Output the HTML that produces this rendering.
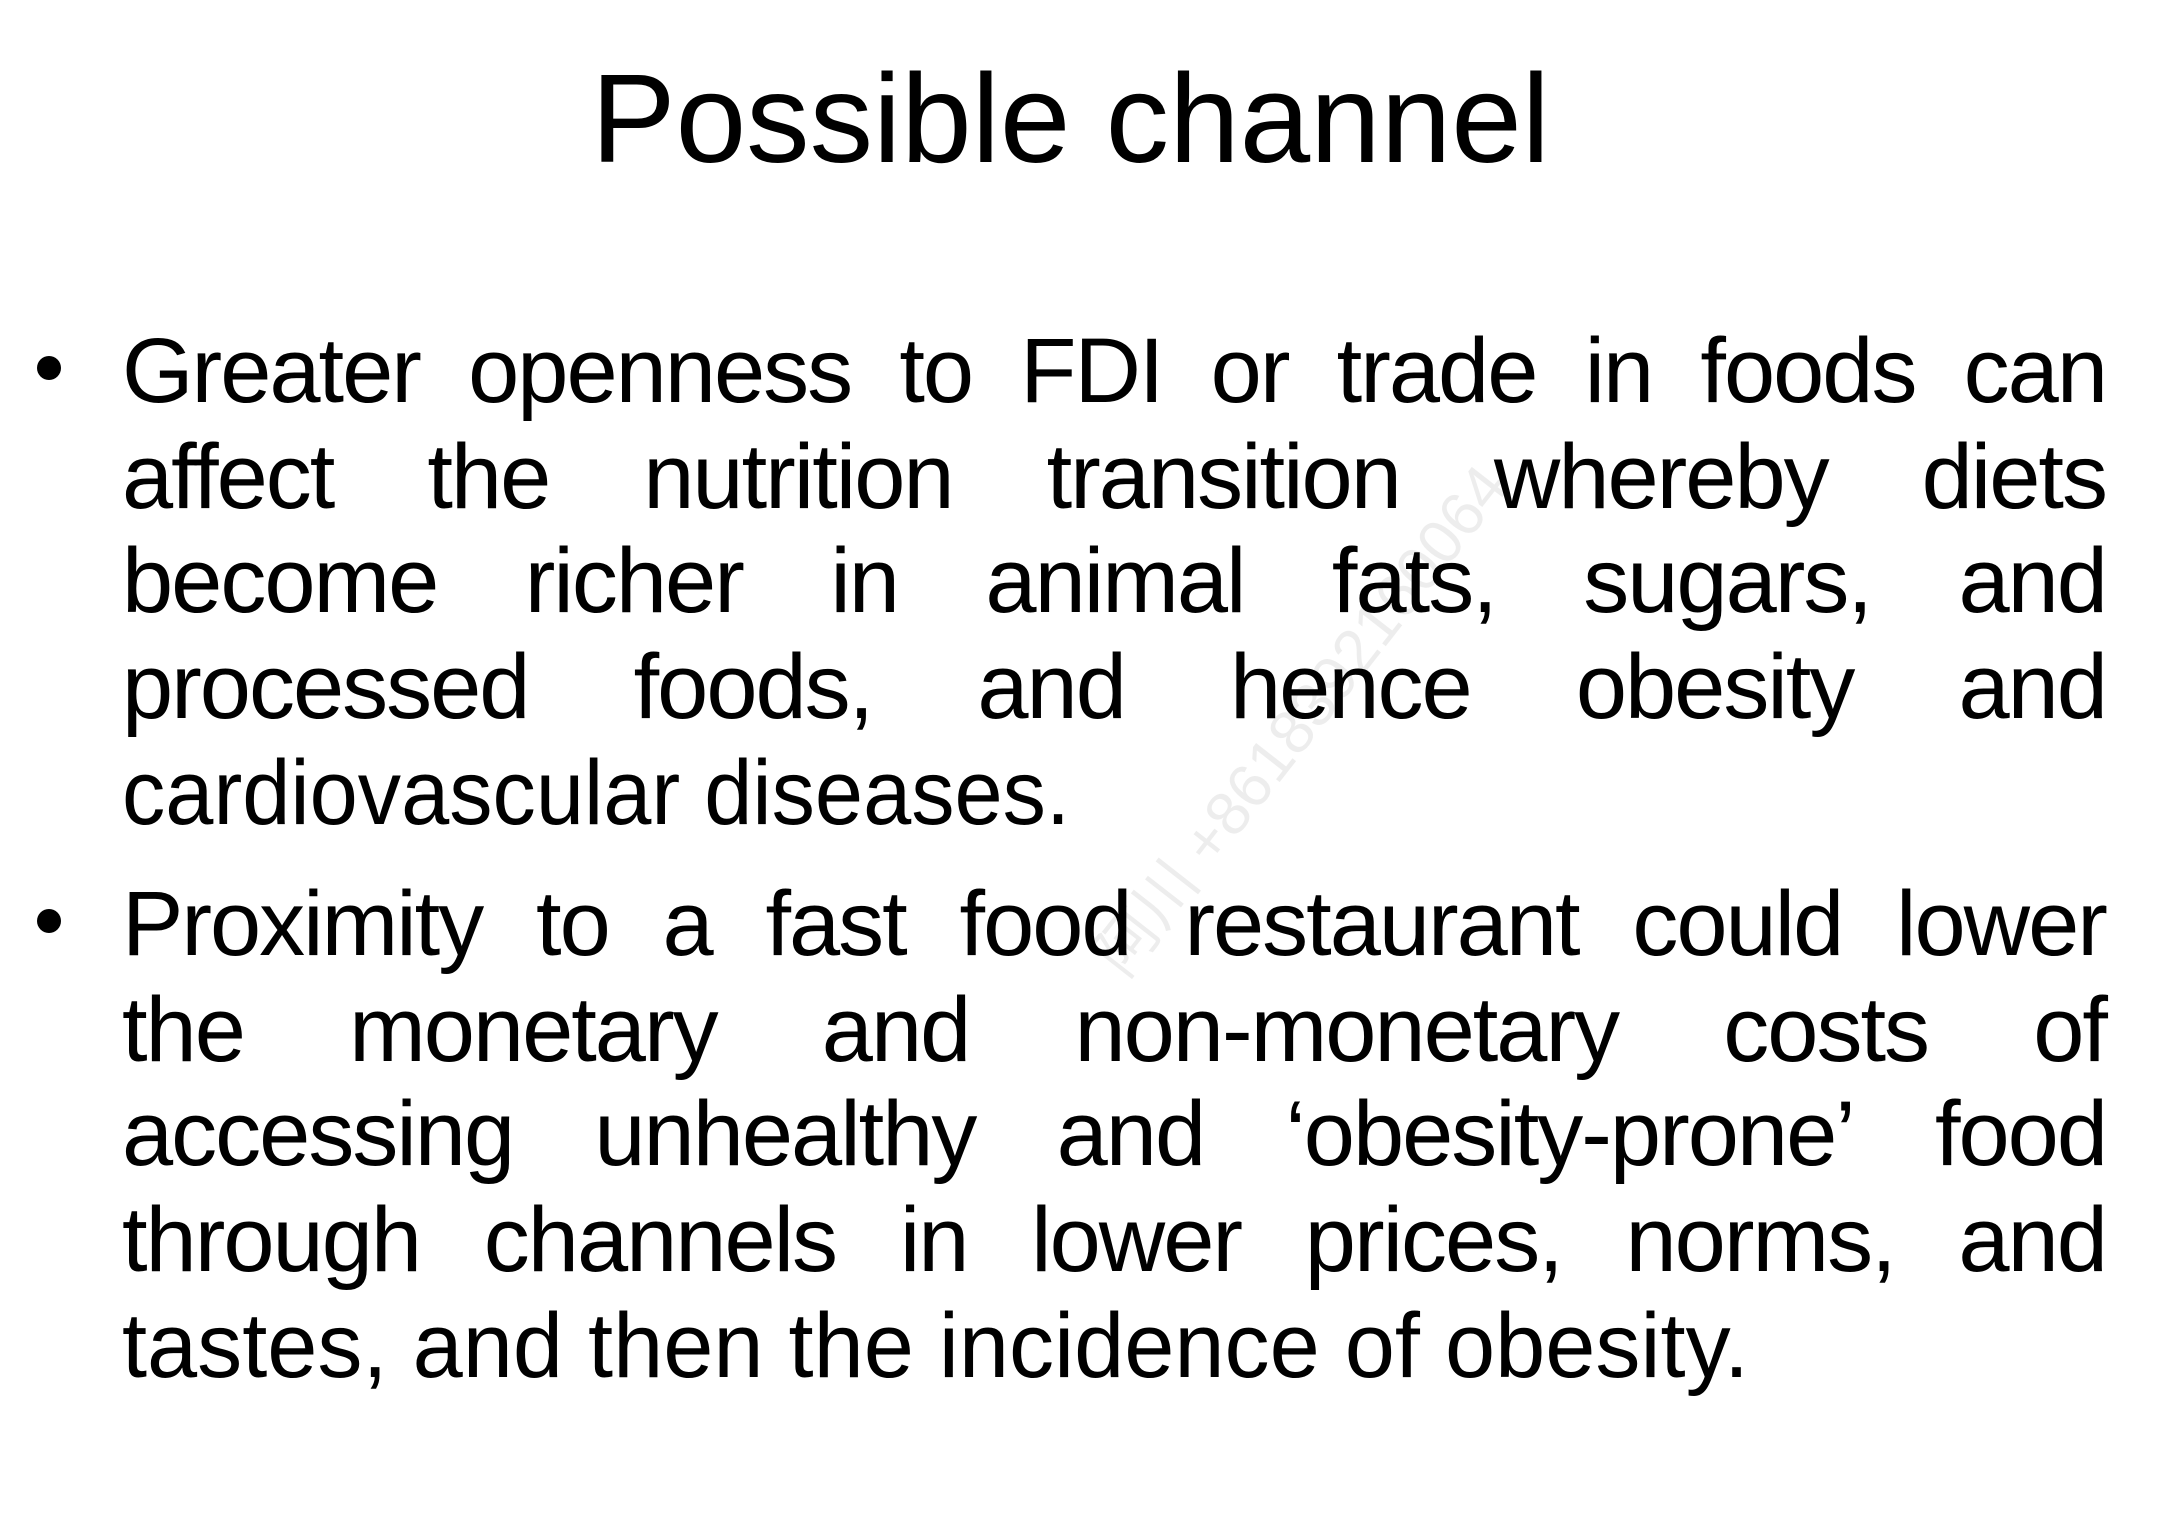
<!DOCTYPE html>
<html><head><meta charset="utf-8">
<style>
html,body{margin:0;padding:0;background:#fff;}
#slide{position:relative;width:2180px;height:1538px;overflow:hidden;background:#fff;font-family:"Liberation Sans","Noto Sans CJK SC",sans-serif;color:#000;}
.ln{position:absolute;left:122px;width:1984px;display:flex;justify-content:space-between;font-size:92px;letter-spacing:-2px;line-height:1;white-space:nowrap;}
.bul{position:absolute;width:24px;height:24px;border-radius:50%;background:#000;}
svg{position:absolute;left:0;top:0;}
</style></head>
<body>
<div id="slide">
<svg width="2180" height="1538">
  <text x="591" y="162" font-size="126" font-family="Liberation Sans, sans-serif" textLength="959" lengthAdjust="spacingAndGlyphs">Possible channel</text>
  <text x="122" y="824" font-size="92" font-family="Liberation Sans, sans-serif" textLength="948" lengthAdjust="spacingAndGlyphs">cardiovascular diseases.</text>
  <text x="122" y="1377" font-size="92" font-family="Liberation Sans, sans-serif" textLength="1627" lengthAdjust="spacingAndGlyphs">tastes, and then the incidence of obesity.</text>
  <text x="0" y="0" font-size="62" fill="#000" fill-opacity="0.07" font-family="Liberation Sans, Noto Sans CJK SC, sans-serif" transform="translate(1125,980) rotate(-52)">阿川 +8618392160064</text>
</svg>
<div class="bul" style="left:37px;top:356px;"></div>
<div class="bul" style="left:37px;top:909px;"></div>
<div>
<div class="ln" style="top:325px"><span>Greater</span><span>openness</span><span>to</span><span>FDI</span><span>or</span><span>trade</span><span>in</span><span>foods</span><span>can</span></div>
<div class="ln" style="top:431px"><span>affect</span><span>the</span><span>nutrition</span><span>transition</span><span>whereby</span><span>diets</span></div>
<div class="ln" style="top:535px"><span>become</span><span>richer</span><span>in</span><span>animal</span><span>fats,</span><span>sugars,</span><span>and</span></div>
<div class="ln" style="top:641px"><span>processed</span><span>foods,</span><span>and</span><span>hence</span><span>obesity</span><span>and</span></div>
</div>
<div>
<div class="ln" style="top:878px"><span>Proximity</span><span>to</span><span>a</span><span>fast</span><span>food</span><span>restaurant</span><span>could</span><span>lower</span></div>
<div class="ln" style="top:984px"><span>the</span><span>monetary</span><span>and</span><span>non-monetary</span><span>costs</span><span>of</span></div>
<div class="ln" style="top:1088px"><span>accessing</span><span>unhealthy</span><span>and</span><span>‘obesity-prone’</span><span>food</span></div>
<div class="ln" style="top:1194px"><span>through</span><span>channels</span><span>in</span><span>lower</span><span>prices,</span><span>norms,</span><span>and</span></div>
</div>
</div>
</body></html>
